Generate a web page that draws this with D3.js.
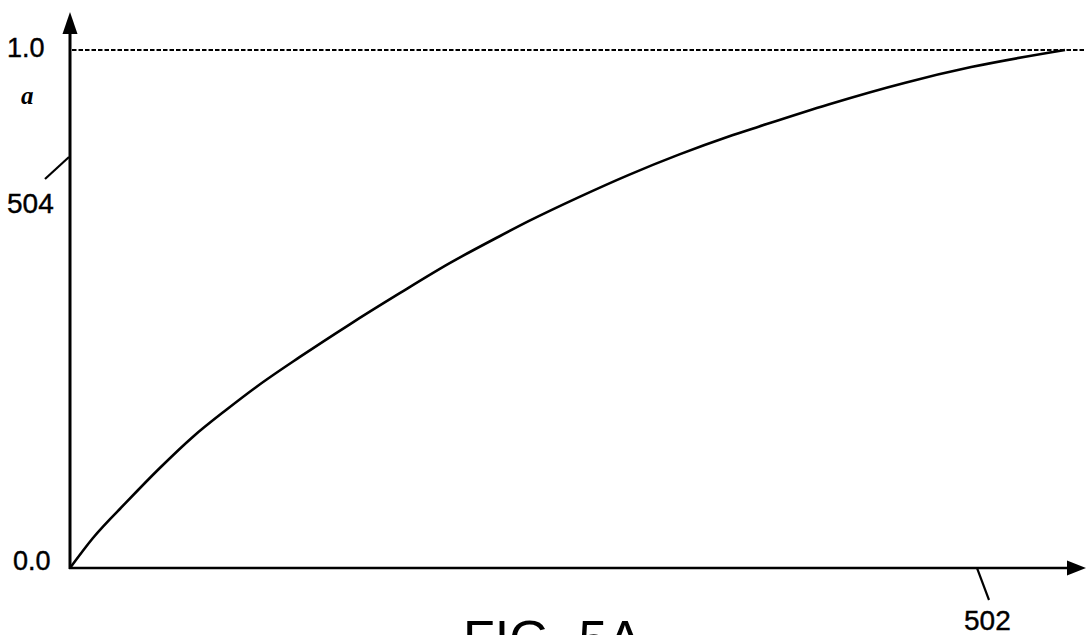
<!DOCTYPE html>
<html>
<head>
<meta charset="utf-8">
<script src="https://cdn.jsdelivr.net/npm/d3@7"></script>
<style>
  html, body { margin: 0; padding: 0; background: #fff; }
  svg { display: block; }
</style>
</head>
<body>
<svg id="chart" width="1086" height="635"></svg>
<script>
// ---- data ----
const curveX = [0, 0.023, 0.057, 0.09, 0.123, 0.157, 0.187, 0.23, 0.28, 0.33, 0.38, 0.43, 0.46, 0.51, 0.56, 0.61, 0.66, 0.69, 0.76, 0.837, 0.903, 0.997];
const curveA = [0, 0.058, 0.128, 0.193, 0.253, 0.306, 0.350, 0.407, 0.470, 0.530, 0.588, 0.640, 0.670, 0.716, 0.759, 0.798, 0.833, 0.852, 0.895, 0.937, 0.967, 1.0];
const tickValues = [0, 1];
const tickLabels = ["0.0", "1.0"];
const asymptote = [1.0];
const axisSymbol = "a";
const refLabels = ["504", "502"];
const figureTitle = "FIG. 5A";

// ---- layout ----
const svg = d3.select("#chart");
const x = d3.scaleLinear().domain([0, 1]).range([70, 1068]);
const y = d3.scaleLinear().domain([0, 1]).range([568, 50]);
const x0 = x(0), y0 = y(0);

// dashed asymptote line
svg.selectAll("line.asym").data(asymptote).join("line")
  .attr("class", "asym")
  .attr("x1", x0 + 2).attr("x2", 1084)
  .attr("y1", d => y(d)).attr("y2", d => y(d))
  .attr("stroke", "#000").attr("stroke-width", 2.2)
  .attr("stroke-dasharray", "4.5,2");

// y axis with arrow
svg.append("line")
  .attr("x1", x0).attr("x2", x0)
  .attr("y1", y0 + 1).attr("y2", 30)
  .attr("stroke", "#000").attr("stroke-width", 3);
svg.append("path")
  .attr("d", `M${x0},12 L${x0 - 7.5},34 L${x0 + 7.5},34 Z`)
  .attr("fill", "#000");

// x axis with arrow
svg.append("line")
  .attr("x1", x0 - 1).attr("x2", 1070)
  .attr("y1", y0).attr("y2", y0)
  .attr("stroke", "#000").attr("stroke-width", 2.6);
svg.append("path")
  .attr("d", `M1086,${y0} L1067,${y0 - 7.5} L1067,${y0 + 7.5} Z`)
  .attr("fill", "#000");

// curve
const pts = curveX.map((d, i) => [d, curveA[i]]);
svg.append("path")
  .datum(pts)
  .attr("d", d3.line().x(d => x(d[0])).y(d => y(d[1])).curve(d3.curveMonotoneX))
  .attr("fill", "none")
  .attr("stroke", "#000")
  .attr("stroke-width", 2.6);

// tick labels
const labelX = { "0.0": 13, "1.0": 7 };
const labelDy = { "0.0": 2, "1.0": 7 };
svg.selectAll("text.tick").data(tickValues).join("text")
  .attr("class", "tick")
  .attr("x", (d, i) => labelX[tickLabels[i]])
  .attr("y", (d, i) => y(d) + labelDy[tickLabels[i]])
  .attr("font-family", "Liberation Sans, Arial, sans-serif")
  .attr("font-size", 27)
  .attr("fill", "#000")
  .attr("stroke", "#000").attr("stroke-width", 0.4)
  .text((d, i) => tickLabels[i]);

// axis symbol "a"
svg.append("text")
  .attr("x", 21).attr("y", 104)
  .attr("font-family", "Liberation Serif, Times New Roman, serif")
  .attr("font-style", "italic")
  .attr("font-weight", "bold")
  .attr("font-size", 25)
  .attr("fill", "#000")
  .text(axisSymbol);

// reference numeral 504 with leader
svg.append("line")
  .attr("x1", 45).attr("y1", 179).attr("x2", x0 - 1).attr("y2", 157)
  .attr("stroke", "#000").attr("stroke-width", 2.2);
svg.append("text")
  .attr("x", 7).attr("y", 213)
  .attr("font-family", "Liberation Sans, Arial, sans-serif")
  .attr("font-size", 28)
  .attr("fill", "#000")
  .attr("stroke", "#000").attr("stroke-width", 0.4)
  .text(refLabels[0]);

// reference numeral 502 with leader
svg.append("line")
  .attr("x1", 977).attr("y1", y0).attr("x2", 989).attr("y2", 600)
  .attr("stroke", "#000").attr("stroke-width", 2.2);
svg.append("text")
  .attr("x", 964).attr("y", 630)
  .attr("font-family", "Liberation Sans, Arial, sans-serif")
  .attr("font-size", 28)
  .attr("fill", "#000")
  .attr("stroke", "#000").attr("stroke-width", 0.4)
  .text(refLabels[1]);

// figure title (cropped at the bottom in the reference)
svg.append("text")
  .attr("x", 463).attr("y", 657)
  .attr("font-family", "Liberation Sans, Arial, sans-serif")
  .attr("font-size", 52)
  .attr("fill", "#000")
  .text(figureTitle);
</script>
</body>
</html>
